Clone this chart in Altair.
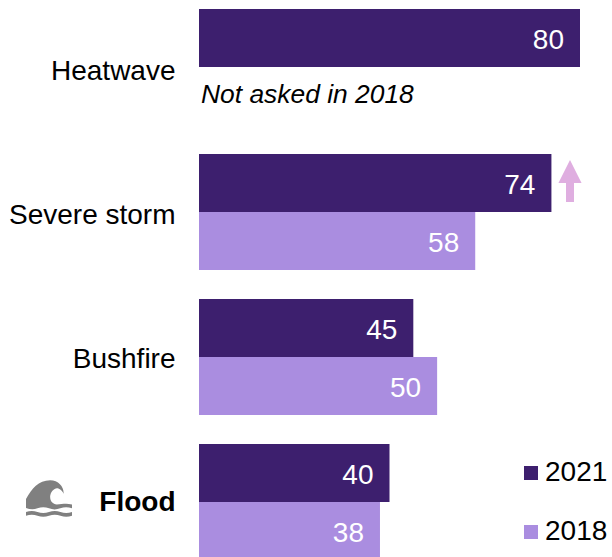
import altair as alt
import pandas as pd

FONT = "Liberation Sans"
DARK = "#3d1f6e"
LIGHT = "#aa8de0"

hazards = ["Heatwave", "Severe storm", "Bushfire", "Flood"]
years = ["2021", "2018"]
values_2021 = [80, 74, 45, 40]
values_2018 = [None, 58, 50, 38]

rows = []
for hazard, v21, v18 in zip(hazards, values_2021, values_2018):
    rows.append({"hazard": hazard, "year": "2021", "value": v21})
    if v18 is not None:
        rows.append({"hazard": hazard, "year": "2018", "value": v18})
data = pd.DataFrame(rows)

# Glyphs drawn in symbol units, centred on the origin.
ARROW_PATH = "M0,-1 L0.55,0.1 L0.19,0.1 L0.19,1 L-0.19,1 L-0.19,0.1 L-0.55,0.1 Z"
WAVE_PATH = (
    "M-1,0.43 L-1,0.04 C-0.75,-0.40 -0.46,-0.77 0.05,-0.77 "
    "C0.42,-0.77 0.66,-0.47 0.635,-0.18 C0.56,-0.36 0.42,-0.42 0.34,-0.42 "
    "C0.12,-0.38 0.05,-0.15 0.05,-0.04 C0.05,0.14 0.17,0.28 0.34,0.28 "
    "C0.56,0.28 0.71,0.22 1,0.28 L1,0.45 Q0.74,0.36 0.49,0.45 Q0.24,0.54 0,0.45 "
    "Q-0.25,0.36 -0.5,0.45 Q-0.75,0.54 -1,0.43 Z "
    "M-1,0.61 Q-0.75,0.52 -0.5,0.61 Q-0.25,0.70 0,0.61 Q0.25,0.52 0.5,0.61 "
    "Q0.75,0.70 1,0.61 L1,0.77 Q0.75,0.86 0.5,0.77 Q0.25,0.68 0,0.77 "
    "Q-0.25,0.86 -0.5,0.77 Q-0.75,0.68 -1,0.77 Z"
)

x_enc = alt.X("value:Q", scale=alt.Scale(domain=[0, 80], range=[0, 381], nice=False), axis=None)
y_enc = alt.Y(
    "hazard:N",
    sort=hazards,
    title=None,
    scale=alt.Scale(domain=hazards, range=[0, 551], paddingInner=0.2, paddingOuter=0),
    axis=alt.Axis(
        domain=False,
        ticks=False,
        labelPadding=24,
        labelFont=FONT,
        labelFontSize=28,
        labelColor="#000000",
        labelLimit=200,
        labelOffset={
            "condition": [
                {"test": "datum.value == 'Heatwave'", "value": 5},
                {"test": "datum.value == 'Severe storm'", "value": 4},
                {"test": "datum.value == 'Bushfire'", "value": 3},
            ],
            "value": 1,
        },
        labelFontWeight=alt.condition("datum.value == 'Flood'", alt.value("bold"), alt.value("normal")),
    ),
)
y_offset = alt.YOffset("year:N", sort=years, scale=alt.Scale(domain=years, paddingInner=0, paddingOuter=0))

bars = alt.Chart(data).mark_bar(cornerRadius=0, clip=False).encode(
    x=x_enc,
    y=y_enc,
    yOffset=y_offset,
    color=alt.Color(
        "year:N",
        sort=years,
        scale=alt.Scale(domain=years, range=[DARK, LIGHT]),
        legend=alt.Legend(
            title=None,
            orient="none",
            legendX=318,
            legendY=450,
            symbolType="square",
            symbolSize=196,
            symbolStrokeWidth=0,
            symbolOpacity=1,
            labelFont=FONT,
            labelFontSize=28,
            labelColor="#000000",
            labelOffset=0,
            rowPadding=31,
        ),
    ),
)

value_labels = alt.Chart(data).mark_text(
    align="right", baseline="middle", dx=-16, dy=3, font=FONT, fontSize=28, color="#ffffff"
).encode(x=x_enc, y=y_enc, yOffset=y_offset, text=alt.Text("value:Q"))

note = alt.Chart(pd.DataFrame({"hazard": ["Heatwave"], "year": ["2018"], "note": ["Not asked in 2018"]})).mark_text(
    align="left", baseline="middle", dx=2, dy=-1, font=FONT, fontSize=26.4, fontStyle="italic", color="#000000"
).encode(x=alt.value(0), y=y_enc, yOffset=y_offset, text="note:N")

arrow = alt.Chart(pd.DataFrame({"marker": ["rise"]})).mark_point(
    shape=ARROW_PATH, filled=True, fill="#dfaee0", stroke=None, opacity=1, size=1764
).encode(x=alt.value(371), y=alt.value(172))

wave = alt.Chart(pd.DataFrame({"marker": ["flood"]})).mark_point(
    shape=WAVE_PATH, filled=True, fill="#808080", stroke=None, opacity=1, size=2116
).encode(x=alt.value(-150), y=alt.value(489))

chart = (
    alt.layer(bars, value_labels, note, arrow, wave)
    .properties(
        width=413,
        height=548,
        padding={"left": 199, "top": 9, "right": 0, "bottom": 0},
        autosize=alt.AutoSizeParams(type="none"),
        background="#ffffff",
    )
    .configure_view(stroke=None)
)

chart.save("out.html", embed_options={"renderer": "svg", "actions": False})
